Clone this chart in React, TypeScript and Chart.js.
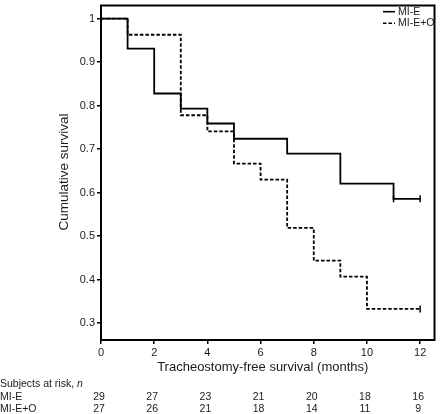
import React, { useEffect, useRef } from "react";
import { Chart, registerables } from "chart.js";
Chart.register(...registerables);

const xTickValues = [0, 2, 4, 6, 8, 10, 12];
const yTickValues = [0.3, 0.4, 0.5, 0.6, 0.7, 0.8, 0.9, 1];
const seriesNames = ["MI-E", "MI-E+O"];
const mieTimes = [0, 1, 2, 3, 4, 5, 7, 9, 11, 12];
const mieSurv = [1, 0.931, 0.828, 0.793, 0.759, 0.724, 0.69, 0.621, 0.586, 0.586];
const mieCensorTimes = [11, 12];
const mieCensorSurv = [0.586, 0.586];
const meoTimes = [0, 1, 3, 4, 5, 6, 7, 8, 9, 10, 12];
const meoSurv = [1, 0.963, 0.778, 0.741, 0.667, 0.63, 0.519, 0.444, 0.407, 0.333, 0.333];
const meoCensorTimes = [12];
const meoCensorSurv = [0.333];
const atRiskMIE = [29, 27, 23, 21, 20, 18, 16];
const atRiskMEO = [27, 26, 21, 18, 14, 11, 9];
const xTitle = "Tracheostomy-free survival (months)";
const yTitle = "Cumulative survival";
const riskHeader = "Subjects at risk, ";

const FONT = "'Liberation Sans', Arial, sans-serif";
const INK = "#1a1a1a";

const toPts = (xs: number[], ys: number[]) => xs.map((x, i) => ({ x, y: ys[i] }));

const overlay = {
  id: "overlay",
  afterDraw(chart: any) {
    const { ctx, chartArea: a, scales } = chart;
    const xs = scales.x;
    ctx.save();
    // frame
    ctx.strokeStyle = "#000";
    ctx.lineWidth = 2;
    ctx.setLineDash([]);
    ctx.strokeRect(a.left, a.top, a.right - a.left, a.bottom - a.top);

    // legend
    ctx.font = `10.5px ${FONT}`;
    ctx.fillStyle = INK;
    ctx.textBaseline = "middle";
    ctx.textAlign = "left";
    const legY = [11.7, 23.3];
    const dashes = [[], [3.5, 2]];
    seriesNames.forEach((n, i) => {
      ctx.beginPath();
      ctx.lineWidth = 1.6;
      ctx.setLineDash(dashes[i]);
      ctx.moveTo(383, legY[i]);
      ctx.lineTo(395, legY[i]);
      ctx.stroke();
      ctx.setLineDash([]);
      ctx.fillText(n, 398, legY[i]);
    });

    // axis titles
    ctx.font = `13px ${FONT}`;
    ctx.textAlign = "center";
    ctx.fillText(xTitle, (a.left + a.right) / 2 - 5, 367);
    ctx.save();
    ctx.translate(64, 172);
    ctx.rotate(-Math.PI / 2);
    ctx.font = `13.5px ${FONT}`;
    ctx.fillText(yTitle, 0, 0);
    ctx.restore();

    // at risk table
    ctx.font = `10.5px ${FONT}`;
    ctx.textAlign = "left";
    ctx.fillText(riskHeader, 0, 384);
    const w = ctx.measureText(riskHeader).width;
    ctx.font = `italic 10.5px ${FONT}`;
    ctx.fillText("n", w, 384);
    ctx.font = `10.5px ${FONT}`;
    ctx.fillText(seriesNames[0], 0, 397);
    ctx.fillText(seriesNames[1], 0, 409);
    ctx.textAlign = "center";
    xTickValues.forEach((t, i) => {
      const px = xs.getPixelForValue(t) - 2;
      ctx.fillText(String(atRiskMIE[i]), px, 397);
      ctx.fillText(String(atRiskMEO[i]), px, 409);
    });
    ctx.restore();
  },
};

export default function App() {
  const ref = useRef<HTMLCanvasElement | null>(null);
  useEffect(() => {
    if (!ref.current) return;
    const chart = new Chart(ref.current, {
      type: "line",
      data: {
        datasets: [
          {
            label: seriesNames[0],
            data: toPts(mieTimes, mieSurv),
            borderColor: "#000",
            borderWidth: 1.8,
            stepped: "before",
            pointRadius: 0,
            fill: false,
          },
          {
            label: seriesNames[1],
            data: toPts(meoTimes, meoSurv),
            borderColor: "#000",
            borderWidth: 1.8,
            borderDash: [3.5, 2],
            stepped: "before",
            pointRadius: 0,
            fill: false,
          },
          {
            label: "censor1",
            data: toPts(mieCensorTimes, mieCensorSurv),
            showLine: false,
            pointStyle: "line",
            rotation: 90,
            pointRadius: 3.5,
            borderColor: "#000",
            borderWidth: 1.5,
          },
          {
            label: "censor2",
            data: toPts(meoCensorTimes, meoCensorSurv),
            showLine: false,
            pointStyle: "line",
            rotation: 90,
            pointRadius: 3.5,
            borderColor: "#000",
            borderWidth: 1.5,
          },
        ] as any,
      },
      options: {
        responsive: false,
        animation: false,
        layout: { padding: { left: 0, top: 1, right: 1.5, bottom: 0 } },
        plugins: { legend: { display: false }, tooltip: { enabled: false } },
        scales: {
          x: {
            type: "linear",
            min: 0,
            max: 12.54,
            afterFit: (s: any) => {
              s.height = 74;
              s.paddingLeft = 0;
              s.paddingRight = 0;
            },
            afterBuildTicks: (s: any) => {
              s.ticks = xTickValues.map((v) => ({ value: v }));
            },
            grid: {
              drawOnChartArea: false,
              drawTicks: true,
              tickLength: 4,
              color: "#000",
              lineWidth: 1.5,
            },
            border: { display: false },
            ticks: {
              padding: 2,
              maxRotation: 0,
              autoSkip: false,
              color: INK,
              font: { family: FONT, size: 11 },
              callback: (v: any) => String(v),
            },
          },
          y: {
            type: "linear",
            min: 0.2615,
            max: 1.0302,
            afterFit: (s: any) => {
              s.width = 101;
              s.paddingTop = 0;
              s.paddingBottom = 0;
            },
            afterBuildTicks: (s: any) => {
              s.ticks = yTickValues.map((v) => ({ value: v }));
            },
            grid: {
              drawOnChartArea: false,
              drawTicks: true,
              tickLength: 4,
              color: "#000",
              lineWidth: 1.5,
            },
            border: { display: false },
            ticks: {
              padding: 2,
              autoSkip: false,
              color: INK,
              font: { family: FONT, size: 11 },
              callback: (v: any) => (v === 1 ? "1" : Number(v).toFixed(1)),
            },
          },
        },
      } as any,
      plugins: [overlay],
    });
    return () => chart.destroy();
  }, []);
  return (
    <div style={{ position: "absolute", left: 0, top: 0, width: 440, height: 414, background: "#fff" }}>
      <canvas ref={ref} width={440} height={414} style={{ display: "block" }} />
    </div>
  );
}
